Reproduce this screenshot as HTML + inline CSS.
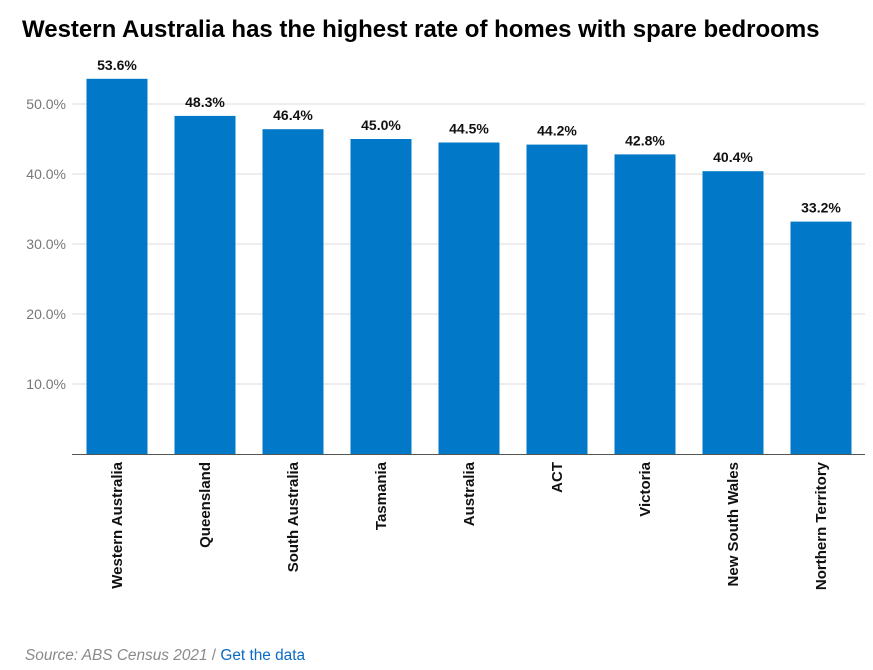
<!DOCTYPE html>
<html><head><meta charset="utf-8"><style>
body{margin:0;background:#fff;font-family:"Liberation Sans",sans-serif;}
svg{display:block}
</style></head><body>
<svg width="873" height="670">
<text x="22" y="37" font-size="24" font-weight="bold" fill="#000">Western Australia has the highest rate of homes with spare bedrooms</text>
<g id="grid"></g><g id="bars"></g><g id="xl"></g>
<text x="25" y="660" font-size="15.4" font-style="italic" fill="#8a8a8a">Source: ABS Census 2021 <tspan font-style="normal" fill="#8a8a8a">/ </tspan><tspan font-style="normal" fill="#0a6ac4">Get the data</tspan></text>
</svg>
<script>
const categories=["Western Australia","Queensland","South Australia","Tasmania","Australia","ACT","Victoria","New South Wales","Northern Territory"];
const values=[53.6,48.3,46.4,45.0,44.5,44.2,42.8,40.4,33.2];
const ticks=[10,20,30,40,50];
const NS="http://www.w3.org/2000/svg";
const x0=73,x1=865,y0=454,pxPer=7;
const band=(x1-x0)/categories.length,bw=61;
const y=v=>y0-v*pxPer;
const xc=i=>x0+band*i+band/2;
function mk(t,a,p){const e=document.createElementNS(NS,t);for(const k in a)e.setAttribute(k,a[k]);p.appendChild(e);return e;}
const g=document.getElementById('grid'),b=document.getElementById('bars'),xl=document.getElementById('xl');
ticks.forEach(t=>{
 const l=mk('line',{x1:72,x2:865,y1:y(t),y2:y(t),stroke:'#dcdcdc','stroke-width':1},g);
 
 
 const tx=mk('text',{x:66,y:y(t)+5,'text-anchor':'end','font-size':14,fill:'#777'},g);
 tx.textContent=t.toFixed(1)+'%';
 
 
});
values.forEach((v,i)=>{
 const r=mk('rect',{x:xc(i)-bw/2,y:y(v),width:bw,height:y0-y(v),fill:'#0278c8'},b);
 
 
 const t=mk('text',{x:xc(i),y:y(v)-9,'text-anchor':'middle','font-size':14,'font-weight':'bold',fill:'#111'},b);
 t.textContent=v.toFixed(1)+'%';
 
 
 const c=mk('text',{transform:`translate(${xc(i)+5},462) rotate(-90)`,'text-anchor':'end','font-size':15,'font-weight':'bold',fill:'#111'},xl);
 c.textContent=categories[i];
 
 
});
const ax=mk('line',{x1:72,x2:865,y1:y0+0.5,y2:y0+0.5,stroke:'#555','stroke-width':1},b);


</script>
</body></html>
